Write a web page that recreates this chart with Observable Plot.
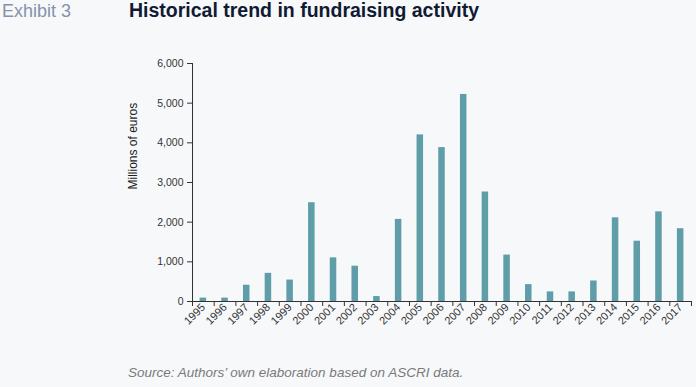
<!DOCTYPE html>
<html>
<head>
<meta charset="utf-8">
<script src="https://cdn.jsdelivr.net/npm/d3@7"></script>
<script src="https://cdn.jsdelivr.net/npm/@observablehq/plot@0.6"></script>
<style>
  html, body { margin: 0; padding: 0; background: #f7f8fa; }
  #wrap { position: relative; width: 696px; height: 387px; background: #f7f8fa; font-family: "Liberation Sans", Arial, sans-serif; overflow: hidden; }
  #exhibit { position: absolute; left: 2px; top: 0px; font-size: 18px; line-height: 22px; color: #8393ab; }
  #title { position: absolute; left: 129px; top: -1px; font-size: 19.5px; line-height: 22px; font-weight: bold; color: #111a33; }
  #chart { position: absolute; left: 0; top: 40px; }
  #source { position: absolute; left: 128px; top: 365px; font-size: 13.5px; line-height: 16px; font-style: italic; color: #7a7a7a; }
</style>
</head>
<body>
<div id="wrap">
  <div id="exhibit">Exhibit 3</div>
  <div id="title">Historical trend in fundraising activity</div>
  <div id="chart"></div>
  <div id="source">Source: Authors’ own elaboration based on ASCRI data.</div>
</div>
<script>
const years = [1995, 1996, 1997, 1998, 1999, 2000, 2001, 2002, 2003, 2004, 2005, 2006,
               2007, 2008, 2009, 2010, 2011, 2012, 2013, 2014, 2015, 2016, 2017];
const values = [85, 85, 410, 710, 540, 2490, 1100, 890, 125, 2070, 4200, 3880,
                5220, 2760, 1170, 425, 242, 242, 517, 2110, 1520, 2260, 1835];
const yTicks = [0, 1000, 2000, 3000, 4000, 5000, 6000];
const yLabel = "Millions of euros";

const data = years.map((y, i) => ({year: y, value: values[i]}));

const half = 0.5;      // half a year slot
const barHalf = 0.15;  // half bar width, in year units
const xDomain = [years[0] - half, years[years.length - 1] + half];
const boundaries = years.map(y => y - half).concat([years[years.length - 1] + half]);

const plot = Plot.plot({
  width: 696,
  height: 290,
  marginLeft: 192,
  marginRight: 5,
  marginTop: 23,
  marginBottom: 29,
  style: {background: "transparent", fontFamily: "Liberation Sans, Arial, sans-serif", fontSize: "10.5px", color: "#333", overflow: "visible"},
  x: {type: "linear", domain: xDomain, axis: null},
  y: {domain: [0, 6000], axis: null},
  marks: [
    Plot.rectY(data, {x1: d => d.year - barHalf, x2: d => d.year + barHalf, y: "value", fill: "#5f9da8"}),
    Plot.ruleY([0], {stroke: "#333", strokeWidth: 1}),
    Plot.ruleX([xDomain[0]], {y1: 0, y2: 6000, stroke: "#333", strokeWidth: 1}),
    Plot.axisY({ticks: yTicks, tickFormat: d3.format(","), tickSize: 5, tickPadding: 4, stroke: "#333", fill: "#333", label: null}),
    Plot.axisX({ticks: boundaries, tickSize: 5, tickFormat: () => "", stroke: "#333", label: null}),
    Plot.axisX({ticks: years, tickSize: 0, tickRotate: -45, tickPadding: 4, tickFormat: d => String(d), fill: "#333", fontSize: 11, label: null}),
    Plot.text([yLabel], {frameAnchor: "left", rotate: -90, dx: -59, dy: 7, fontSize: 12, fill: "#222", text: d => d})
  ]
});
document.getElementById("chart").appendChild(plot);
</script>
</body>
</html>
